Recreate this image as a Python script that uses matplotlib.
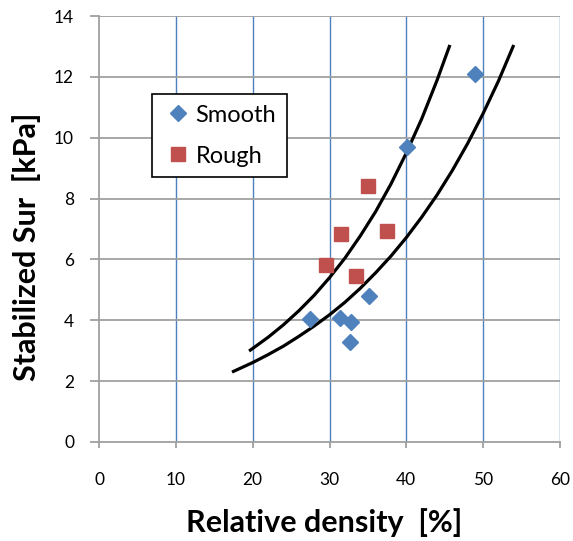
import matplotlib.pyplot as plt
from matplotlib.lines import Line2D

### DONNEES

smooth_x = [27.5, 31.4, 32.8, 32.7, 35.2, 40.1, 48.9]
smooth_y = [4.04, 4.07, 3.96, 3.30, 4.81, 9.69, 12.11]

rough_x = [35.0, 31.5, 37.5, 29.6, 33.5]
rough_y = [8.41, 6.82, 6.92, 5.82, 5.45]

# courbes de tendance
upper_x = [19.7, 22, 24, 26, 28, 30, 32, 34, 36, 38, 40, 42, 44, 45.6]
upper_y = [3.02, 3.44, 3.85, 4.31, 4.82, 5.40, 6.04, 6.77, 7.57, 8.48, 9.50, 10.62, 11.89, 13.0]

lower_x = [17.5, 20, 22, 24, 26, 28, 30, 32, 34, 36, 38, 40, 42, 44, 46, 48, 50, 52, 53.9]
lower_y = [2.32, 2.61, 2.87, 3.15, 3.47, 3.81, 4.18, 4.59, 5.05, 5.56, 6.11, 6.72, 7.39, 8.12, 8.93, 9.82, 10.8, 11.87, 13.0]

x_ticks = [0, 10, 20, 30, 40, 50, 60]
y_ticks = [0, 2, 4, 6, 8, 10, 12, 14]

### FIGURE

plt.rcParams['font.family'] = ['Lato', 'DejaVu Sans']

blue = '#4F81BD'
red = '#C0504D'
grey = '#A0A0A0'

fig = plt.figure(figsize=(5.73, 5.41), dpi=100)
ax = fig.add_axes([0.1728, 0.183, 0.8045, 0.7874])

ax.set_xlim(0, 60)
ax.set_ylim(0, 14)
ax.set_xticks(x_ticks)
ax.set_yticks(y_ticks)

for xv in x_ticks[1:]:
    ax.axvline(xv, color=blue, lw=1, zorder=0)
for yv in y_ticks[1:]:
    ax.axhline(yv, color=grey, lw=1.3, zorder=0)

ax.plot(upper_x, upper_y, color='black', lw=2.3, zorder=2)
ax.plot(lower_x, lower_y, color='black', lw=2.3, zorder=2)

ax.plot(smooth_x, smooth_y, 'D', color=blue, ms=8.5, mec=blue, zorder=3)
ax.plot(rough_x, rough_y, 's', color=red, ms=10, mec=red, zorder=3)

for s in ['top', 'right']:
    ax.spines[s].set_visible(False)
for s in ['left', 'bottom']:
    ax.spines[s].set_color(grey)
    ax.spines[s].set_linewidth(1.3)

ax.tick_params(direction='out', width=1.3, color=grey, labelsize=12.5)
ax.tick_params(axis='x', length=4.3, pad=17)
ax.tick_params(axis='y', length=6.5, pad=11.5)

ax.set_xlabel('Relative density  [%]', fontsize=22, fontweight='bold')
ax.set_ylabel('Stabilized Sur  [kPa]', fontsize=22, fontweight='bold')
ax.xaxis.set_label_coords(0.489, -0.188)
ax.yaxis.set_label_coords(-0.158, 0.458)
ax.xaxis.label.set_va('center')
ax.yaxis.label.set_va('center')

handles = [
    Line2D([], [], ls='none', marker='D', color=blue, ms=8.5, label='Smooth'),
    Line2D([], [], ls='none', marker='s', color=red, ms=10, label='Rough'),
]
leg = ax.legend(handles=handles, loc='upper left', bbox_to_anchor=(0.115, 0.817),
                borderaxespad=0, fontsize=17, frameon=True, fancybox=False,
                edgecolor='black', framealpha=1, handletextpad=0.1,
                labelspacing=0.85, borderpad=0.45, handlelength=1.3)
leg.get_frame().set_linewidth(1.2)

fig.savefig('out.png', dpi=100)
